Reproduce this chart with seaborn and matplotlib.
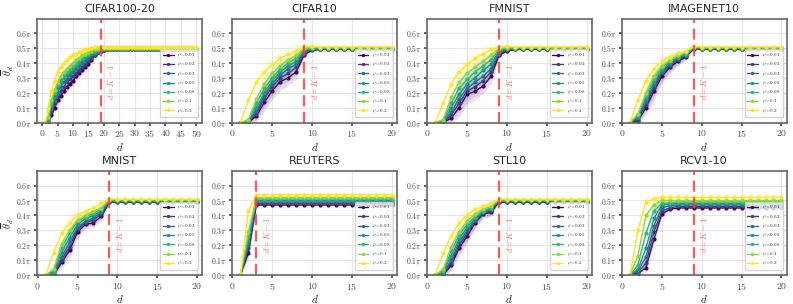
import numpy as np
import pandas as pd
import seaborn as sns
import matplotlib.pyplot as plt
from matplotlib.ticker import FuncFormatter, MultipleLocator

# rho levels and their legend labels
rhos = ["0.01", "0.02", "0.03", "0.05", "0.08", "0.1", "0.2"]

# plateau level (in units of pi) reached after d = K-1, per rho
plateau_std = [0.49, 0.492, 0.494, 0.497, 0.5, 0.503, 0.508]
plateau_reuters = [0.47, 0.48, 0.49, 0.50, 0.51, 0.52, 0.54]
plateau_rcv1 = [0.45, 0.46, 0.47, 0.48, 0.49, 0.50, 0.52]

# rising part of each curve (d = 1, 2, ...), in units of pi
cifar100_rise = [
    [0, 0, 0.05, 0.10, 0.15, 0.18, 0.21, 0.24, 0.26, 0.28, 0.31, 0.33, 0.35, 0.37, 0.39, 0.42, 0.45, 0.47, 0.48, 0.485],
    [0, 0, 0.07, 0.13, 0.18, 0.21, 0.24, 0.27, 0.29, 0.31, 0.33, 0.35, 0.37, 0.39, 0.41, 0.43, 0.45, 0.47, 0.48, 0.487],
    [0, 0.01, 0.09, 0.15, 0.20, 0.24, 0.27, 0.29, 0.32, 0.34, 0.36, 0.38, 0.40, 0.42, 0.43, 0.45, 0.46, 0.475, 0.485, 0.49],
    [0, 0.02, 0.11, 0.18, 0.23, 0.27, 0.30, 0.32, 0.34, 0.36, 0.38, 0.40, 0.42, 0.43, 0.45, 0.46, 0.47, 0.48, 0.49, 0.495],
    [0, 0.03, 0.13, 0.20, 0.25, 0.29, 0.32, 0.34, 0.36, 0.38, 0.40, 0.42, 0.43, 0.45, 0.46, 0.47, 0.48, 0.49, 0.495, 0.5],
    [0, 0.04, 0.15, 0.22, 0.27, 0.31, 0.34, 0.36, 0.38, 0.40, 0.42, 0.43, 0.45, 0.46, 0.47, 0.48, 0.49, 0.495, 0.5, 0.503],
    [0, 0.10, 0.21, 0.28, 0.34, 0.37, 0.40, 0.42, 0.44, 0.45, 0.46, 0.47, 0.48, 0.49, 0.495, 0.50, 0.505, 0.507, 0.508, 0.508],
]
cifar100_band = [0, 0.01, 0.02, 0.03, 0.03, 0.03, 0.03, 0.03, 0.03, 0.03, 0.03, 0.03, 0.03, 0.02, 0.02, 0.02, 0.015, 0.01, 0.01, 0.005]

cifar10_rise = [
    [0, 0, 0.045, 0.135, 0.215, 0.275, 0.30, 0.34, 0.455, 0.485],
    [0, 0, 0.06, 0.16, 0.24, 0.30, 0.33, 0.37, 0.465, 0.49],
    [0, 0.005, 0.08, 0.18, 0.26, 0.32, 0.36, 0.39, 0.475, 0.492],
    [0, 0.01, 0.10, 0.20, 0.28, 0.34, 0.38, 0.41, 0.485, 0.495],
    [0, 0.015, 0.13, 0.23, 0.30, 0.36, 0.40, 0.43, 0.49, 0.498],
    [0, 0.02, 0.16, 0.26, 0.33, 0.38, 0.42, 0.45, 0.50, 0.503],
    [0, 0.15, 0.27, 0.34, 0.39, 0.43, 0.46, 0.48, 0.51, 0.51],
]
cifar10_band = [0, 0.01, 0.04, 0.06, 0.06, 0.06, 0.05, 0.05, 0.02, 0.01]

fmnist_rise = [
    [0, 0, 0.03, 0.10, 0.19, 0.21, 0.245, 0.31, 0.45, 0.48],
    [0, 0, 0.05, 0.13, 0.21, 0.24, 0.28, 0.34, 0.46, 0.485],
    [0, 0.005, 0.07, 0.16, 0.23, 0.27, 0.31, 0.36, 0.47, 0.49],
    [0, 0.01, 0.10, 0.19, 0.26, 0.30, 0.35, 0.39, 0.48, 0.495],
    [0, 0.015, 0.13, 0.23, 0.29, 0.34, 0.38, 0.42, 0.49, 0.498],
    [0, 0.02, 0.17, 0.27, 0.33, 0.37, 0.41, 0.45, 0.495, 0.503],
    [0, 0.13, 0.26, 0.34, 0.39, 0.43, 0.46, 0.49, 0.505, 0.51],
]
fmnist_band = [0, 0.01, 0.04, 0.06, 0.07, 0.06, 0.05, 0.05, 0.02, 0.01]

imagenet_rise = [
    [0, 0.01, 0.10, 0.21, 0.31, 0.37, 0.41, 0.44, 0.495],
    [0, 0.02, 0.12, 0.23, 0.33, 0.38, 0.42, 0.445, 0.497],
    [0, 0.03, 0.14, 0.25, 0.34, 0.39, 0.43, 0.45, 0.5],
    [0, 0.04, 0.16, 0.27, 0.35, 0.40, 0.435, 0.455, 0.502],
    [0, 0.05, 0.18, 0.29, 0.37, 0.41, 0.44, 0.46, 0.505],
    [0, 0.06, 0.20, 0.31, 0.38, 0.42, 0.45, 0.47, 0.507],
    [0, 0.15, 0.28, 0.36, 0.41, 0.44, 0.465, 0.48, 0.51],
]
imagenet_band = [0, 0.02, 0.05, 0.06, 0.05, 0.04, 0.03, 0.02, 0.005]

mnist_rise = [
    [0, 0, 0.085, 0.165, 0.29, 0.34, 0.35, 0.395, 0.49],
    [0, 0.005, 0.10, 0.19, 0.31, 0.35, 0.37, 0.41, 0.493],
    [0, 0.01, 0.12, 0.22, 0.32, 0.36, 0.385, 0.42, 0.496],
    [0, 0.02, 0.15, 0.25, 0.34, 0.38, 0.40, 0.43, 0.5],
    [0, 0.03, 0.18, 0.28, 0.36, 0.39, 0.415, 0.44, 0.503],
    [0, 0.04, 0.21, 0.30, 0.37, 0.40, 0.43, 0.45, 0.506],
    [0, 0.15, 0.28, 0.35, 0.40, 0.43, 0.45, 0.48, 0.51],
]
mnist_band = [0, 0.01, 0.04, 0.05, 0.04, 0.03, 0.03, 0.03, 0.005]

reuters_rise = [
    [0, 0.15, 0.47],
    [0, 0.18, 0.48],
    [0, 0.20, 0.49],
    [0, 0.23, 0.50],
    [0, 0.26, 0.51],
    [0, 0.29, 0.52],
    [0, 0.43, 0.54],
]
reuters_band = [0, 0.05, 0.01]

stl10_rise = [
    [0, 0, 0.065, 0.18, 0.26, 0.35, 0.41, 0.42, 0.49],
    [0, 0.005, 0.08, 0.20, 0.28, 0.36, 0.415, 0.43, 0.493],
    [0, 0.01, 0.10, 0.22, 0.30, 0.37, 0.42, 0.44, 0.496],
    [0, 0.02, 0.13, 0.24, 0.32, 0.38, 0.425, 0.445, 0.5],
    [0, 0.03, 0.16, 0.27, 0.34, 0.39, 0.43, 0.45, 0.503],
    [0, 0.04, 0.19, 0.29, 0.36, 0.41, 0.44, 0.46, 0.506],
    [0, 0.145, 0.265, 0.35, 0.405, 0.44, 0.46, 0.48, 0.51],
]
stl10_band = [0, 0.01, 0.04, 0.05, 0.05, 0.04, 0.03, 0.03, 0.005]

rcv1_rise = [
    [0, 0.01, 0.05, 0.24, 0.41, 0.44],
    [0, 0.02, 0.08, 0.29, 0.43, 0.45],
    [0, 0.03, 0.12, 0.33, 0.45, 0.465],
    [0, 0.04, 0.18, 0.38, 0.47, 0.475],
    [0, 0.07, 0.28, 0.43, 0.48, 0.485],
    [0, 0.13, 0.40, 0.47, 0.50, 0.5],
    [0, 0.305, 0.49, 0.51, 0.52, 0.52],
]
rcv1_band = [0, 0.01, 0.03, 0.03, 0.02, 0.01]

titles = ["CIFAR100-20", "CIFAR10", "FMNIST", "IMAGENET10",
          "MNIST", "REUTERS", "STL10", "RCV1-10"]
d_max = [50, 20, 20, 20, 20, 20, 20, 20]
k_minus_1 = [19, 9, 9, 9, 9, 3, 9, 9]
rises = [cifar100_rise, cifar10_rise, fmnist_rise, imagenet_rise,
         mnist_rise, reuters_rise, stl10_rise, rcv1_rise]
bands = [cifar100_band, cifar10_band, fmnist_band, imagenet_band,
         mnist_band, reuters_band, stl10_band, rcv1_band]
plateaus = [plateau_std, plateau_std, plateau_std, plateau_std,
            plateau_std, plateau_reuters, plateau_std, plateau_rcv1]

sns.set_theme(style="whitegrid")
plt.rcParams.update({
    "mathtext.fontset": "cm",
    "axes.edgecolor": "0.4",
    "axes.linewidth": 1.2,
    "grid.color": "0.9",
    "grid.linewidth": 0.8,
    "xtick.bottom": True,
    "ytick.left": True,
    "xtick.major.size": 2.5,
    "ytick.major.size": 2.5,
    "xtick.color": "0.3",
    "ytick.color": "0.3",
})

colors = [plt.cm.viridis(v) for v in np.linspace(0, 1, len(rhos))]
labels = [r"$\rho=%s$" % r for r in rhos]
palette = dict(zip(labels, colors))

fig, axes = plt.subplots(2, 4, figsize=(7.93, 3.04), dpi=100)
fig.subplots_adjust(left=0.047, right=0.992, top=0.938, bottom=0.095, wspace=0.18, hspace=0.47)

for i, ax in enumerate(axes.flat):
    n = d_max[i]
    d = np.arange(1, n + 1)
    rows = []
    for j, lab in enumerate(labels):
        y = rises[i][j] + [plateaus[i][j]] * (n - len(rises[i][j]))
        band = bands[i] + [0.004] * (n - len(bands[i]))
        ax.fill_between(d, np.array(y) - np.array(band), np.array(y) + np.array(band),
                        color=colors[j], alpha=0.12, linewidth=0)
        rows.append(pd.DataFrame({"d": d, "theta": y, "rho": lab}))
    df = pd.concat(rows)
    sns.lineplot(data=df, x="d", y="theta", hue="rho", palette=palette, hue_order=labels,
                 marker="o", markersize=3, markeredgewidth=0, linewidth=1, ax=ax)

    k = k_minus_1[i]
    ax.axvline(k, color="#ff3b3b", ls="--", lw=1.6, dashes=(5, 2.5), alpha=0.85)
    ax.text(k + n * 0.035, 0.27, r"$d=K-1$", rotation=90, color="#ff4d4d", alpha=0.85,
            fontsize=6, ha="left", va="center")

    if n == 50:
        ax.set_xlim(-1.6, 52)
    else:
        ax.set_xlim(-0.05, 20.65)
    ax.set_ylim(0, 0.695)
    ax.yaxis.set_major_locator(MultipleLocator(0.1))
    ax.yaxis.set_major_formatter(FuncFormatter(lambda v, p: r"$%.1f\pi$" % v))
    ax.xaxis.set_major_locator(MultipleLocator(5))
    ax.xaxis.set_major_formatter(FuncFormatter(lambda v, p: r"$%d$" % v))
    ax.tick_params(axis="y", labelsize=5.5, pad=1)
    ax.tick_params(axis="x", labelsize=7, pad=1.5)
    ax.set_title(titles[i], fontsize=8, pad=5)
    ax.set_xlabel(r"$d$", fontsize=8, labelpad=1)
    if i % 4 == 0:
        ax.set_ylabel(r"$\overline{\theta}_d$", fontsize=7.5, labelpad=0)
    else:
        ax.set_ylabel("")
    ax.legend(loc="lower right", fontsize=3.5, frameon=True, handlelength=2.2,
              labelspacing=0.45, borderpad=0.5, markerscale=0.8, bbox_to_anchor=(0.99, 0.03))

fig.savefig("out.png", dpi=100)
